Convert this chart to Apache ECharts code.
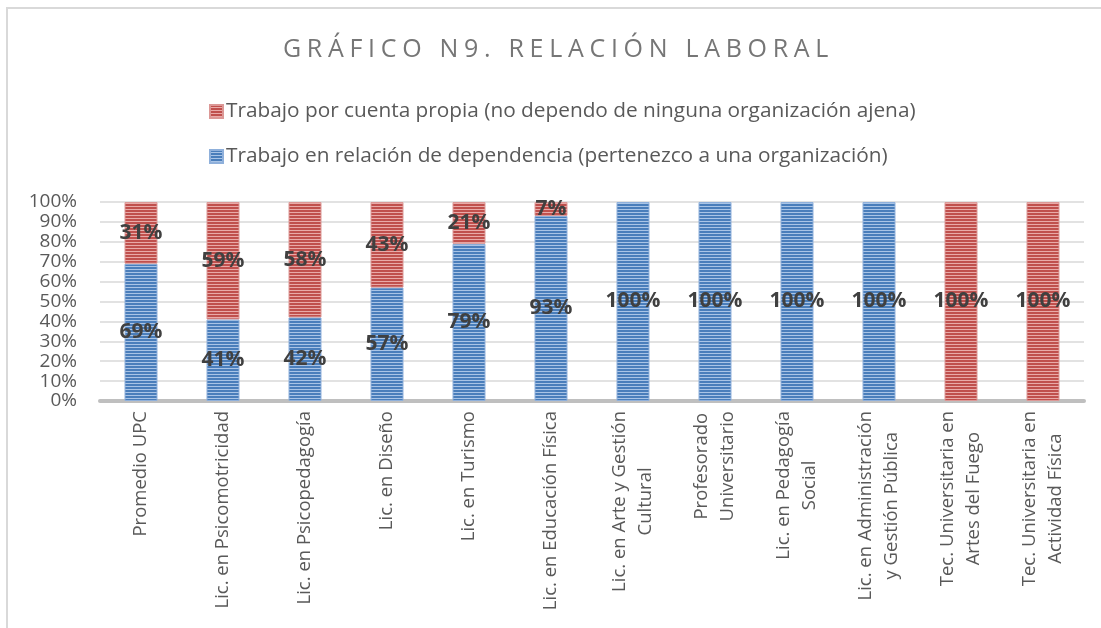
<!DOCTYPE html>
<html>
<head>
<meta charset="utf-8">
<script src="https://cdn.jsdelivr.net/npm/echarts@6/dist/echarts.min.js"></script>
<style>
  html, body { margin: 0; padding: 0; background: #fff; }
  #wrap { position: relative; width: 1101px; height: 628px; }
  #chart { width: 1101px; height: 628px; }
  #title {
    position: absolute; left: 8px; top: 30px; width: 1101px; text-align: center;
    font-family: "Open Sans", sans-serif; font-weight: 400; font-size: 25px;
    letter-spacing: 5.7px; color: #767676; pointer-events: none;
  }
</style>
</head>
<body>
<div id="wrap">
  <div id="chart"></div>
  <div id="title">GRÁFICO N9. RELACIÓN LABORAL</div>
</div>
<script>
// categorias del eje x
var carreras = [
  'Promedio UPC',
  'Lic. en Psicomotricidad',
  'Lic. en Psicopedagogía',
  'Lic. en Diseño',
  'Lic. en Turismo',
  'Lic. en Educación Física',
  'Lic. en Arte y Gestión\nCultural',
  'Profesorado\nUniversitario',
  'Lic. en Pedagogía\nSocial',
  'Lic. en Administración\ny Gestión Pública',
  'Tec. Universitaria en\nArtes del Fuego',
  'Tec. Universitaria en\nActividad Física'
];
var dependencia = [69, 41, 42, 57, 79, 93, 100, 100, 100, 100, 0, 0];
var cuentaPropia = [31, 59, 58, 43, 21, 7, 0, 0, 0, 0, 100, 100];
var nombreDep = 'Trabajo en relación de dependencia (pertenezco a una organización)';
var nombrePropia = 'Trabajo por cuenta propia (no dependo de ninguna organización ajena)';

// rayas horizontales como en el grafico original
function rayas(base, claro) {
  var c = document.createElement('canvas');
  c.width = 4; c.height = 3;
  var ctx = c.getContext('2d');
  ctx.fillStyle = base;
  ctx.fillRect(0, 0, 4, 3);
  ctx.fillStyle = claro;
  ctx.fillRect(0, 2, 4, 1);
  return { image: c, repeat: 'repeat' };
}

// los ceros no se dibujan (ni borde ni etiqueta)
function sinCeros(arr) {
  return arr.map(function (v) { return v === 0 ? '-' : v; });
}

var chart = echarts.init(document.getElementById('chart'));

var etiqueta = {
  show: true,
  position: 'inside',
  fontFamily: 'Open Sans',
  fontSize: 21,
  fontWeight: 'bold',
  color: '#404040',
  formatter: '{c}%'
};

var option = {
  animation: false,
  textStyle: { fontFamily: 'Open Sans' },
  graphic: [{
    type: 'rect',
    shape: { x: 7, y: 8, width: 1110, height: 640 },
    style: { fill: 'none', stroke: '#d9d9d9', lineWidth: 2 },
    silent: true
  }],
  legend: {
    orient: 'vertical',
    left: 204,
    top: 96,
    itemGap: 24,
    itemWidth: 13,
    itemHeight: 13,
    icon: 'rect',
    data: [nombrePropia, nombreDep],
    textStyle: { fontFamily: 'Open Sans', fontSize: 20.8, color: '#595959', padding: [0, 0, 0, -2] }
  },
  grid: { left: 100, right: 17, top: 202, bottom: 227, containLabel: false },
  xAxis: {
    type: 'category',
    data: carreras,
    axisLine: { lineStyle: { color: '#bfbfbf', width: 4 } },
    axisTick: { show: false },
    axisLabel: {
      interval: 0,
      rotate: 90,
      margin: 10,
      // lineas centradas entre si
      formatter: function (v) {
        return v.split('\n').map(function (l) { return '{c|' + l + '}'; }).join('\n');
      },
      rich: {
        c: {
          align: 'center',
          fontFamily: 'Open Sans',
          fontSize: 18.5,
          lineHeight: 26,
          color: '#595959'
        }
      }
    }
  },
  yAxis: {
    type: 'value',
    min: 0,
    max: 100,
    interval: 10,
    axisLine: { show: false },
    axisTick: { show: false },
    splitLine: { lineStyle: { color: '#d9d9d9', width: 1.5 } },
    axisLabel: {
      formatter: '{value}%',
      margin: 23,
      fontFamily: 'Open Sans',
      fontSize: 19,
      color: '#595959'
    }
  },
  series: [
    {
      name: nombreDep,
      type: 'bar',
      stack: 'total',
      barWidth: 33,
      data: sinCeros(dependencia),
      itemStyle: { color: rayas('#4a7ebb', '#a9c4e6'), borderColor: '#8fb0db', borderWidth: 1 },
      label: etiqueta
    },
    {
      name: nombrePropia,
      type: 'bar',
      stack: 'total',
      barWidth: 33,
      data: sinCeros(cuentaPropia),
      itemStyle: { color: rayas('#c0504d', '#e9aaa8'), borderColor: '#dc9896', borderWidth: 1 },
      label: etiqueta
    }
  ]
};
chart.setOption(option);
</script>
</body>
</html>
